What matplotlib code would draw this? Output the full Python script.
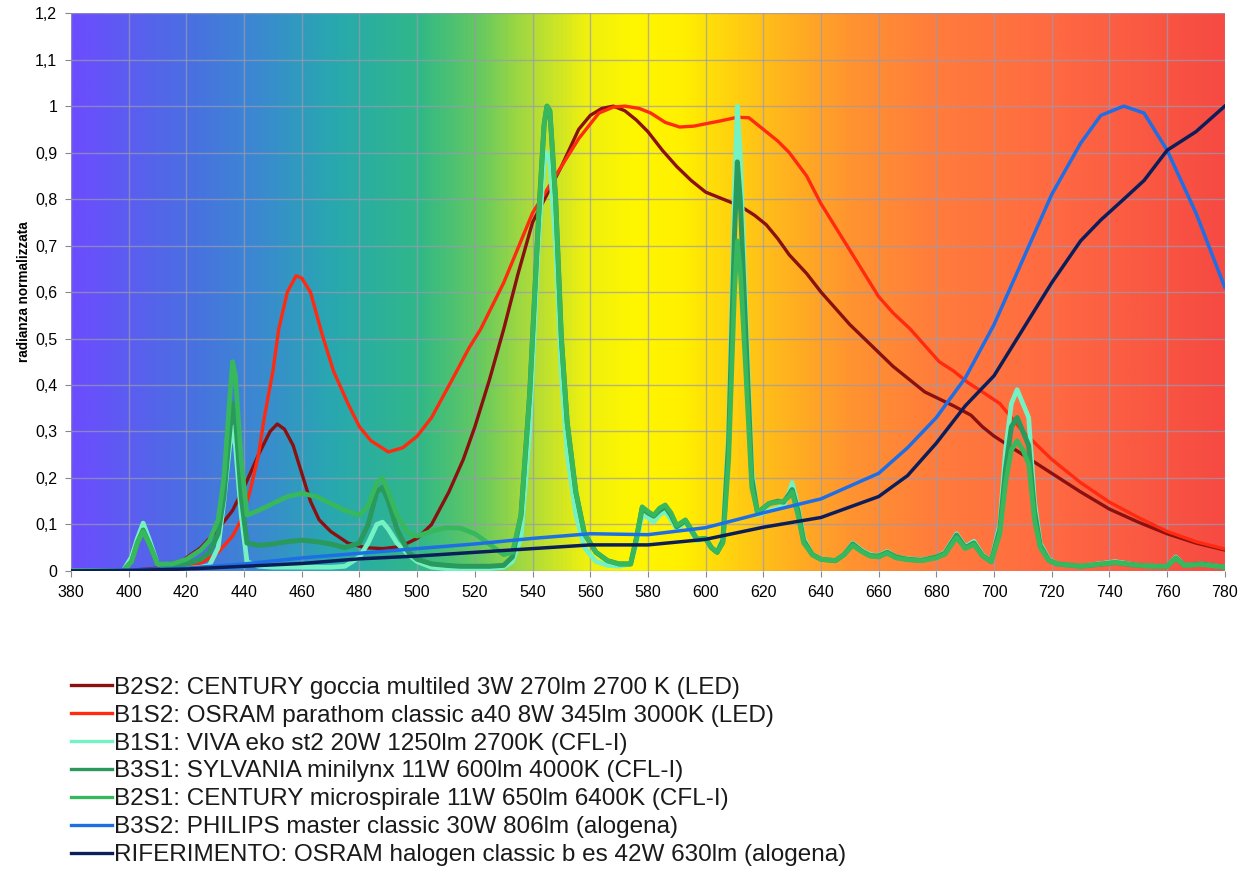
import numpy as np
import matplotlib
matplotlib.use("Agg")
import matplotlib.pyplot as plt
from matplotlib.colors import LinearSegmentedColormap, Normalize
from matplotlib.ticker import FuncFormatter, MultipleLocator

plt.rcParams['font.family'] = ['Liberation Sans', 'DejaVu Sans']

# --- LED / halogen spectra (wavelength nm, normalised radiance) ---
wl_b2s2 = [380, 400, 410, 419, 425, 431, 436, 440, 445, 449, 451.5, 454, 457, 460, 463, 466, 470, 476,
           482, 488, 494, 500, 505, 511, 516, 520, 525, 530, 535, 540, 545, 550, 556, 560, 564, 568, 572,
           576, 580, 585, 590, 595, 600, 606, 612, 617, 621, 625, 629, 635, 640, 645, 650, 655, 660, 665,
           671, 676, 681, 686, 692, 696, 700, 705, 710, 720, 730, 740, 750, 760, 770, 780]
b2s2 = [0, 0.001, 0.006, 0.024, 0.05, 0.09, 0.13, 0.18, 0.25, 0.3, 0.316, 0.305, 0.27, 0.21, 0.15, 0.11,
        0.085, 0.06, 0.05, 0.048, 0.052, 0.07, 0.1, 0.17, 0.24, 0.31, 0.41, 0.52, 0.64, 0.75, 0.81, 0.87,
        0.95, 0.98, 0.995, 1.0, 0.99, 0.97, 0.945, 0.905, 0.87, 0.84, 0.815, 0.8, 0.785, 0.765, 0.745,
        0.715, 0.68, 0.64, 0.6, 0.565, 0.53, 0.5, 0.47, 0.44, 0.41, 0.385, 0.37, 0.355, 0.335, 0.31, 0.29,
        0.27, 0.25, 0.21, 0.17, 0.133, 0.105, 0.08, 0.06, 0.045]

wl_b1s2 = [380, 410, 420, 425, 431, 436, 439, 442, 445, 447, 450, 452, 455, 458, 460, 463, 467, 471, 476,
           480, 484, 490, 495, 500, 505, 512, 518, 522, 530, 540, 548, 556, 563, 568, 572, 577, 581, 586,
           591, 596, 600, 605, 611, 615, 620, 625, 629, 635, 640, 645, 650, 655, 660, 665, 671, 676, 681,
           686, 691, 696, 702, 710, 720, 730, 740, 750, 760, 770, 780]
b1s2 = [0, 0.002, 0.008, 0.016, 0.04, 0.075, 0.11, 0.17, 0.25, 0.33, 0.43, 0.52, 0.6, 0.635, 0.63, 0.6,
        0.51, 0.43, 0.36, 0.31, 0.28, 0.256, 0.265, 0.29, 0.33, 0.41, 0.48, 0.52, 0.62, 0.77, 0.85, 0.93,
        0.985, 0.998, 1.0, 0.995, 0.985, 0.965, 0.955, 0.957, 0.962, 0.968, 0.976, 0.975, 0.95, 0.925,
        0.9, 0.85, 0.79, 0.74, 0.69, 0.64, 0.59, 0.555, 0.52, 0.485, 0.45, 0.43, 0.405, 0.385, 0.36, 0.3,
        0.24, 0.19, 0.148, 0.115, 0.085, 0.063, 0.047]

wl_halo = [380, 400, 420, 440, 460, 480, 500, 520, 540, 560, 580, 600, 620, 640, 660, 670, 680, 690,
           700, 710, 720, 730, 737, 745, 752, 760, 770, 780]
b3s2 = [0, 0.002, 0.006, 0.015, 0.028, 0.038, 0.048, 0.058, 0.07, 0.08, 0.078, 0.093, 0.125, 0.155,
        0.21, 0.265, 0.33, 0.415, 0.53, 0.67, 0.81, 0.92, 0.98, 1.0, 0.985, 0.905, 0.77, 0.61]
rif = [0, 0.001, 0.004, 0.01, 0.016, 0.026, 0.032, 0.04, 0.048, 0.056, 0.056, 0.068, 0.094, 0.115,
       0.16, 0.205, 0.275, 0.355, 0.42, 0.52, 0.62, 0.71, 0.755, 0.8, 0.84, 0.905, 0.945, 1.0]

# --- CFL spectra on a shared wavelength grid ---
wl_cfl = [380, 398, 401, 403, 405, 407, 410, 415, 420, 425, 428, 431, 433, 435, 436, 437, 439, 441, 445,
          450, 455, 460, 465, 470, 475, 480, 483, 486, 488, 490, 493, 497, 500, 505, 510, 515, 520, 525,
          530, 533, 536, 539, 542, 544, 545, 546, 548, 550, 552, 555, 558, 562, 566, 570, 574, 576, 578,
          580, 582, 584, 586, 588, 590, 593, 595, 597, 600, 602, 604, 606, 608, 610, 611, 612, 614, 616,
          618, 620, 622, 625, 627, 629, 630, 632, 634, 637, 640, 645, 648, 651, 654, 657, 660, 663, 666,
          670, 675, 680, 683, 687, 690, 693, 696, 699, 702, 704, 706, 708, 710, 712, 714, 716, 719, 722,
          730, 742, 750, 756, 760, 763, 766, 772, 780]
b1s1 = [0, 0, 0.03, 0.07, 0.103, 0.07, 0.015, 0.005, 0.005, 0.008, 0.012, 0.05, 0.15, 0.27, 0.31, 0.27,
        0.12, 0.02, 0.01, 0.008, 0.008, 0.008, 0.008, 0.008, 0.01, 0.03, 0.06, 0.1, 0.105, 0.09, 0.06,
        0.035, 0.02, 0.008, 0.005, 0.005, 0.005, 0.005, 0.008, 0.02, 0.07, 0.3, 0.7, 0.88, 0.9, 0.88, 0.7,
        0.42, 0.25, 0.12, 0.05, 0.02, 0.012, 0.01, 0.015, 0.06, 0.12, 0.115, 0.105, 0.12, 0.128, 0.11,
        0.09, 0.105, 0.085, 0.065, 0.07, 0.05, 0.04, 0.07, 0.3, 0.82, 1.0, 0.9, 0.55, 0.22, 0.12, 0.125,
        0.13, 0.135, 0.14, 0.17, 0.19, 0.14, 0.07, 0.035, 0.025, 0.022, 0.035, 0.06, 0.045, 0.035, 0.033,
        0.042, 0.03, 0.026, 0.024, 0.03, 0.04, 0.08, 0.052, 0.064, 0.035, 0.02, 0.1, 0.26, 0.36, 0.39,
        0.36, 0.33, 0.15, 0.06, 0.025, 0.015, 0.01, 0.02, 0.012, 0.01, 0.01, 0.03, 0.012, 0.015, 0.008]
b3s1 = [0, 0, 0.02, 0.06, 0.088, 0.06, 0.015, 0.01, 0.015, 0.025, 0.04, 0.08, 0.16, 0.3, 0.36, 0.33,
        0.16, 0.06, 0.055, 0.058, 0.063, 0.066, 0.063, 0.058, 0.05, 0.06, 0.1, 0.17, 0.18, 0.15, 0.09,
        0.04, 0.025, 0.015, 0.012, 0.01, 0.01, 0.01, 0.012, 0.03, 0.12, 0.38, 0.75, 0.96, 1.0, 0.99, 0.8,
        0.5, 0.32, 0.17, 0.08, 0.04, 0.022, 0.015, 0.015, 0.07, 0.135, 0.125, 0.118, 0.13, 0.138, 0.12,
        0.095, 0.108, 0.088, 0.068, 0.07, 0.05, 0.04, 0.065, 0.28, 0.72, 0.88, 0.8, 0.5, 0.2, 0.125, 0.135,
        0.145, 0.15, 0.148, 0.165, 0.175, 0.13, 0.065, 0.035, 0.025, 0.022, 0.035, 0.058, 0.043, 0.033,
        0.032, 0.04, 0.03, 0.025, 0.023, 0.03, 0.038, 0.077, 0.05, 0.06, 0.033, 0.02, 0.09, 0.22, 0.31,
        0.33, 0.3, 0.27, 0.13, 0.055, 0.023, 0.015, 0.01, 0.018, 0.012, 0.01, 0.01, 0.028, 0.012, 0.015, 0.008]
b2s1 = [0, 0, 0.02, 0.06, 0.085, 0.06, 0.015, 0.015, 0.025, 0.045, 0.065, 0.11, 0.2, 0.37, 0.45, 0.42,
        0.24, 0.12, 0.13, 0.145, 0.16, 0.167, 0.16, 0.145, 0.13, 0.12, 0.14, 0.19, 0.2, 0.17, 0.12, 0.08,
        0.075, 0.085, 0.093, 0.092, 0.08, 0.058, 0.035, 0.04, 0.12, 0.38, 0.75, 0.96, 1.0, 0.99, 0.8, 0.5,
        0.32, 0.17, 0.08, 0.04, 0.022, 0.015, 0.015, 0.07, 0.138, 0.128, 0.12, 0.135, 0.142, 0.125, 0.098,
        0.11, 0.09, 0.068, 0.07, 0.05, 0.04, 0.06, 0.24, 0.6, 0.71, 0.65, 0.42, 0.18, 0.125, 0.135, 0.145,
        0.148, 0.15, 0.16, 0.17, 0.12, 0.06, 0.035, 0.025, 0.022, 0.035, 0.055, 0.042, 0.032, 0.03, 0.038,
        0.028, 0.024, 0.022, 0.028, 0.036, 0.072, 0.048, 0.057, 0.032, 0.02, 0.08, 0.19, 0.26, 0.28, 0.26,
        0.23, 0.11, 0.05, 0.022, 0.015, 0.01, 0.018, 0.012, 0.01, 0.01, 0.027, 0.012, 0.014, 0.008]

labels = [
    "B2S2: CENTURY goccia multiled 3W 270lm 2700 K (LED)",
    "B1S2: OSRAM parathom classic a40 8W 345lm 3000K (LED)",
    "B1S1: VIVA eko st2 20W 1250lm 2700K (CFL-I)",
    "B3S1: SYLVANIA minilynx 11W 600lm 4000K (CFL-I)",
    "B2S1: CENTURY microspirale 11W 650lm 6400K (CFL-I)",
    "B3S2: PHILIPS master classic 30W 806lm (alogena)",
    "RIFERIMENTO: OSRAM halogen classic b es 42W 630lm (alogena)",
]
colors = ['#8b1010', '#ff2a10', '#74f2c4', '#2a9a5c', '#38b85c', '#1e6ee6', '#0c1e5a']

# spectrum-like background
bg_stops = [(380, '#6c4cff'), (420, '#4a6fe2'), (445, '#3a8ad0'), (470, '#28a8b0'),
            (500, '#30b888'), (520, '#62c862'), (540, '#b0dc38'), (558, '#eef010'),
            (575, '#fff600'), (592, '#fff000'), (610, '#ffd010'), (630, '#ffb020'),
            (650, '#ff9430'), (680, '#ff7c3c'), (720, '#ff6a42'), (780, '#f64a42')]
cmap = LinearSegmentedColormap.from_list(
    'spec', [((w - 380) / 400, c) for w, c in bg_stops])

fig = plt.figure(figsize=(12.46, 8.77), dpi=100)
ax = fig.add_axes([0.057, 0.349, 0.926, 0.636])
ax.imshow(np.linspace(380, 780, 800)[None, :], extent=[380, 780, 0, 1.2], aspect='auto',
          cmap=cmap, norm=Normalize(380, 780), zorder=0, interpolation='bilinear')

series = [(wl_b2s2, b2s2, 2.4), (wl_b1s2, b1s2, 2.4), (wl_cfl, b1s1, 3.4), (wl_cfl, b3s1, 3.6),
          (wl_cfl, b2s1, 3.4), (wl_halo, b3s2, 2.5), (wl_halo, rif, 2.5)]
handles = []
for (x, y, lw), c, lab in zip(series, colors, labels):
    h, = ax.plot(x, y, color=c, lw=lw, label=lab, zorder=3, solid_joinstyle='round')
    handles.append(h)

ax.set_xlim(380, 780)
ax.set_ylim(0, 1.2)
ax.xaxis.set_major_locator(MultipleLocator(20))
ax.yaxis.set_major_locator(MultipleLocator(0.1))
ax.yaxis.set_major_formatter(FuncFormatter(lambda v, p: f"{v:.1f}".rstrip('0').rstrip('.').replace('.', ',')))
ax.grid(True, color='#9a9ab0', lw=1, alpha=0.7)
ax.set_axisbelow(True)
for s in ax.spines.values():
    s.set_visible(False)
ax.tick_params(length=4, color='#888888', labelsize=11.5, pad=6)
ax.set_ylabel("radianza normalizzata", fontsize=9.8, fontweight='bold', labelpad=3)

leg = fig.legend(handles=[plt.Line2D([], [], color=h.get_color(), lw=2.4) for h in handles],
                 labels=labels, loc='upper left', bbox_to_anchor=(0.047, 0.242), frameon=False,
                 fontsize=17.5, handlelength=1.7, handletextpad=0.08, labelspacing=0.24, borderpad=0)
for t in leg.get_texts():
    t.set_color('#1a1a1a')

fig.savefig('out.png', dpi=100)
